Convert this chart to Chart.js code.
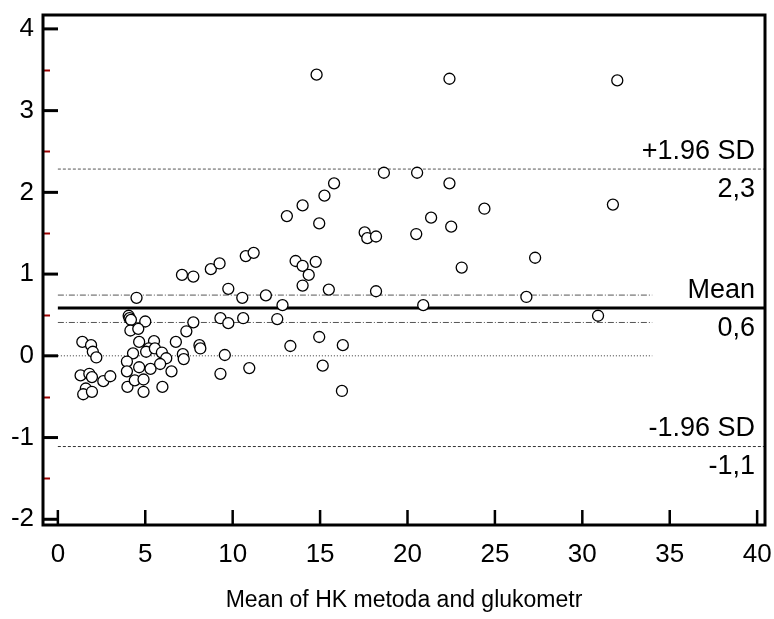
<!DOCTYPE html>
<html>
<head>
<meta charset="utf-8">
<script src="https://cdn.jsdelivr.net/npm/chart.js@4.4.0/dist/chart.umd.min.js"></script>
<style>
body { margin: 0; background: #fff; }
#wrap { width: 774px; height: 619px; position: relative; }
</style>
</head>
<body>
<div id="wrap"><canvas id="bland_chart"></canvas></div>
<script>

// mean of the two methods (x) and their difference (y)
var meanValues = [
    1.4, 1.9, 2.0, 2.2, 1.3, 1.8, 1.95, 2.6, 3.0, 1.6, 1.45, 1.95,
    4.5, 4.05, 4.1, 4.18, 5.0, 4.15, 4.6, 4.65, 5.5, 5.2, 5.05, 5.55, 5.95, 6.2,
    4.3, 3.95, 3.95, 3.98, 4.65, 4.4, 4.9, 4.9, 5.3, 5.85, 5.98, 6.5,
    6.75, 7.15, 7.2, 7.35, 7.75, 8.1, 8.15,
    7.1, 7.75, 8.75, 9.25, 10.75, 11.2, 9.75, 10.55, 11.9, 12.85,
    9.3, 9.75, 10.6, 12.55, 9.55, 9.3, 10.95, 13.3,
    13.1, 13.6, 14.0, 14.75, 14.35, 14.0, 15.5, 14.95, 14.0, 15.25, 15.8, 14.8,
    17.55, 17.7, 18.2, 18.2, 18.65, 20.55, 20.5, 21.35, 20.9,
    22.4, 22.4, 22.5, 24.4, 23.1, 27.3, 26.8, 30.9, 31.75, 32.0,
    14.95, 16.3, 15.15, 16.25
];
var diffValues = [
    0.17, 0.13, 0.05, -0.02, -0.24, -0.22, -0.26, -0.31, -0.25, -0.40, -0.47, -0.44,
    0.71, 0.49, 0.46, 0.44, 0.42, 0.31, 0.33, 0.17, 0.18, 0.09, 0.05, 0.09, 0.04, -0.03,
    0.03, -0.07, -0.19, -0.38, -0.14, -0.30, -0.29, -0.44, -0.16, -0.10, -0.38, -0.19,
    0.17, 0.02, -0.04, 0.30, 0.41, 0.13, 0.09,
    0.99, 0.97, 1.06, 1.13, 1.22, 1.26, 0.82, 0.71, 0.74, 0.62,
    0.46, 0.40, 0.46, 0.45, 0.01, -0.22, -0.15, 0.12,
    1.71, 1.16, 1.10, 1.15, 0.99, 0.86, 0.81, 1.62, 1.84, 1.96, 2.11, 3.44,
    1.51, 1.44, 1.46, 0.79, 2.24, 2.24, 1.49, 1.69, 0.62,
    3.39, 2.11, 1.58, 1.80, 1.08, 1.20, 0.72, 0.49, 1.85, 3.37,
    0.23, 0.13, -0.12, -0.43
];

var xTickValues = [0, 5, 10, 15, 20, 25, 30, 35, 40];
var yTickValues = [-2, -1, 0, 1, 2, 3, 4];
var yMinorTickValues = [-1.5, -0.5, 0.5, 1.5, 2.5, 3.5];

var upperLimit = 2.285;
var meanDiff = 0.584;
var lowerLimit = -1.11;
var meanCiHigh = 0.743;
var meanCiLow = 0.408;
var shortLineEnd = 34;

var limitNames = ['+1.96 SD', 'Mean', '-1.96 SD'];
var limitValueTexts = ['2,3', '0,6', '-1,1'];

var xMin = -0.85, xMax = 40.45;
var yMin = -2.07, yMax = 4.17;

var fontFamily = "'Liberation Sans', Arial, sans-serif";

function hline(y, x_end, colour, width, dash) {
    return {
        type: 'line',
        data: [{x: 0, y: y}, {x: x_end, y: y}],
        borderColor: colour,
        borderWidth: width,
        borderDash: dash,
        pointRadius: 0,
        fill: false,
        order: 2
    };
}

var points = [];
for (var i = 0; i < meanValues.length; i++) {
    points.push({x: meanValues[i], y: diffValues[i]});
}

const frame_plugin = {
    id: 'frame_plugin',
    afterDraw(chart) {
        var ctx = chart.ctx;
        var ca = chart.chartArea;
        var xs = chart.scales.x;
        var ys = chart.scales.y;
        ctx.save();

        // minor ticks on the y axis
        ctx.strokeStyle = '#9a0000';
        ctx.lineWidth = 2;
        for (var v of yMinorTickValues) {
            var py = Math.round(ys.getPixelForValue(v)) + 0.5;
            ctx.beginPath();
            ctx.moveTo(ca.left, py);
            ctx.lineTo(ca.left + 7, py);
            ctx.stroke();
        }

        ctx.strokeStyle = '#000';
        ctx.lineWidth = 3;
        for (var v of yTickValues) {
            var py = ys.getPixelForValue(v);
            ctx.beginPath();
            ctx.moveTo(ca.left, py);
            ctx.lineTo(ca.left + 15, py);
            ctx.stroke();
        }
        ctx.lineWidth = 2.5;
        for (var v of xTickValues) {
            var px = xs.getPixelForValue(v);
            ctx.beginPath();
            ctx.moveTo(px, ca.bottom);
            ctx.lineTo(px, ca.bottom - 15);
            ctx.stroke();
        }

        ctx.lineWidth = 3;
        ctx.strokeRect(ca.left, ca.top, ca.right - ca.left, ca.bottom - ca.top);

        // labels for the limit lines
        ctx.fillStyle = '#000';
        ctx.font = '27px ' + fontFamily;
        ctx.textAlign = 'right';
        ctx.textBaseline = 'middle';
        var levels = [upperLimit, meanDiff, lowerLimit];
        for (var k = 0; k < levels.length; k++) {
            var py = ys.getPixelForValue(levels[k]);
            ctx.fillText(limitNames[k], ca.right - 10, py - 18);
            ctx.fillText(limitValueTexts[k], ca.right - 10, py + 20);
        }
        ctx.restore();
    }
};

var bland_elem = document.getElementById('bland_chart').getContext('2d');

new Chart(bland_elem, {
    type: 'scatter',
    data: {
        datasets: [
            {
                type: 'scatter',
                data: points,
                pointRadius: 5.5,
                pointBorderWidth: 1.3,
                pointBorderColor: '#000',
                pointBackgroundColor: '#fff',
                order: 1
            },
            hline(upperLimit, xMax, '#555', 1, [3, 2]),
            hline(lowerLimit, xMax, '#333', 1, [3, 2]),
            hline(meanDiff, xMax, '#000', 3, []),
            hline(meanCiHigh, shortLineEnd, '#555', 1, [6, 2, 1, 2]),
            hline(meanCiLow, shortLineEnd, '#555', 1, [6, 2, 1, 2]),
            hline(0, shortLineEnd, '#333', 1, [1, 2])
        ]
    },
    options: {
        responsive: true,
        maintainAspectRatio: false,
        animation: false,
        layout: {
            padding: {top: 15, right: 9, left: 0, bottom: 0}
        },
        plugins: {
            legend: {display: false},
            tooltip: {enabled: false}
        },
        scales: {
            x: {
                type: 'linear',
                min: xMin,
                max: xMax,
                grid: {display: false, drawTicks: false},
                border: {display: false},
                afterBuildTicks: function(scale) {
                    scale.ticks = xTickValues.map(function(v) { return {value: v}; });
                },
                afterFit: function(scale) {
                    scale.height = 94;
                    scale.paddingLeft = 0;
                    scale.paddingRight = 0;
                },
                ticks: {
                    padding: 14,
                    color: '#000',
                    font: {size: 26, family: fontFamily},
                    maxRotation: 0,
                    callback: function(v) { return String(v); }
                },
                title: {
                    display: true,
                    text: 'Mean of HK metoda and glukometr',
                    color: '#000',
                    font: {size: 23, family: fontFamily},
                    padding: {top: 0, bottom: 5}
                }
            },
            y: {
                type: 'linear',
                min: yMin,
                max: yMax,
                grid: {display: false, drawTicks: false},
                border: {display: false},
                afterBuildTicks: function(scale) {
                    scale.ticks = yTickValues.map(function(v) { return {value: v}; });
                },
                afterFit: function(scale) {
                    scale.width = 43;
                    scale.paddingTop = 0;
                    scale.paddingBottom = 0;
                },
                ticks: {
                    padding: 9,
                    color: '#000',
                    font: {size: 26, family: fontFamily},
                    callback: function(v) { return String(v); }
                }
            }
        }
    },
    plugins: [frame_plugin]
});

</script>
</body>
</html>
